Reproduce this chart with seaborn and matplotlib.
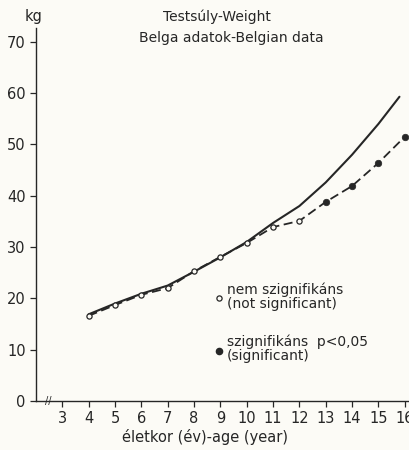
import matplotlib
matplotlib.use('Agg')
from matplotlib import pyplot as plt
import pandas as pd
import seaborn as sns

# Belga adatok - testsúly (kg) életkor szerint
ages = [4, 5, 6, 7, 8, 9, 10, 11, 12, 13, 14, 15, 16]
belgian_kg = [16.6, 18.7, 20.7, 22.0, 25.3, 28.1, 30.8, 33.9, 35.1, 38.8, 41.9, 46.4, 51.5]
significant = [False] * 9 + [True] * 4

# referencia görbe (folytonos vonal)
ref_ages = [4, 5, 6, 7, 8, 9, 10, 11, 12, 13, 14, 15, 15.8]
ref_kg = [16.9, 19.0, 20.9, 22.5, 25.2, 28.0, 31.0, 34.7, 38.0, 42.6, 48.0, 54.0, 59.3]

x_ticks = list(range(3, 17))
y_ticks = list(range(0, 80, 10))

INK = '#262626'
PAPER = '#fcfbf6'

sns.set_style('ticks')
plt.rcParams['font.family'] = ['DejaVu Sans']

df = pd.DataFrame({'age': ages, 'kg': belgian_kg, 'sig': significant})
df_ref = pd.DataFrame({'age': ref_ages, 'kg': ref_kg})

fig = plt.figure(figsize=(4.1, 4.5), dpi=100, facecolor=PAPER)
ax = fig.add_axes([36 / 410, 49 / 450, 374 / 410, 373 / 450])
ax.set_facecolor(PAPER)

sns.lineplot(data=df_ref, x='age', y='kg', ax=ax, color=INK, lw=1.5)
sns.lineplot(data=df, x='age', y='kg', ax=ax, color=INK, lw=1.3,
             linestyle=(0, (5, 2.5)))
sns.scatterplot(data=df[~df['sig']], x='age', y='kg', ax=ax, s=14,
                color=PAPER, edgecolor=INK, linewidth=0.9, zorder=5)
sns.scatterplot(data=df[df['sig']], x='age', y='kg', ax=ax, s=22,
                color=INK, edgecolor=INK, linewidth=0.5, zorder=5)

# jelmagyarázat
ax.scatter([8.95], [20.1], s=14, facecolor=PAPER, edgecolor=INK, linewidth=0.9)
ax.scatter([8.95], [9.7], s=20, color=INK)
ax.text(9.25, 20.4, 'nem szignifikáns\n(not significant)', fontsize=10,
        color=INK, va='center', ha='left', linespacing=1.0)
ax.text(9.25, 10.2, 'szignifikáns  p<0,05\n(significant)', fontsize=10,
        color=INK, va='center', ha='left', linespacing=1.0)

ax.set_xlim(2.0, 16.2)
ax.set_ylim(0, 72.7)
ax.set_xticks(x_ticks)
ax.set_yticks(y_ticks)
ax.tick_params(colors=INK, labelsize=10.5, length=4, width=0.9, direction='out')
sns.despine(ax=ax)
for side in ['left', 'bottom']:
    ax.spines[side].set_color(INK)
    ax.spines[side].set_linewidth(1.0)
ax.set_xlabel('')
ax.set_ylabel('')
ax.text(2.45, 0, '//', fontsize=7, color=INK, ha='center', va='center')

fig.text(217 / 410, 1 - 17 / 450, 'Testsúly-Weight', fontsize=10, color=INK,
         ha='center', va='center')
fig.text(231 / 410, 1 - 38 / 450, 'Belga adatok-Belgian data', fontsize=10,
         color=INK, ha='center', va='center')
fig.text(34 / 410, 1 - 16 / 450, 'kg', fontsize=10.5, color=INK,
         ha='center', va='center')
fig.text(205 / 410, 1 - 437 / 450, 'életkor (év)-age (year)', fontsize=10.5,
         color=INK, ha='center', va='center')

fig.savefig('out.png', dpi=100, facecolor=PAPER)
plt.close()
